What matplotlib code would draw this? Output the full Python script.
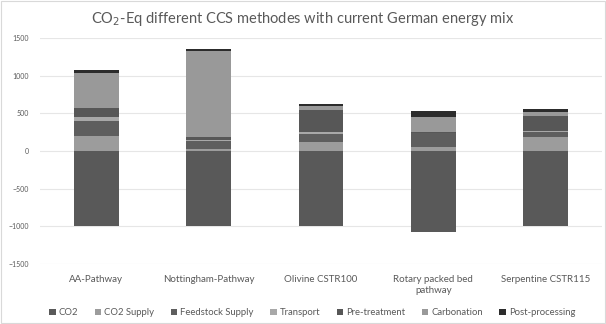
import matplotlib.pyplot as plt
import numpy as np

plt.rcParams['font.family'] = ['Lato', 'DejaVu Sans']

categories = ['AA-Pathway', 'Nottingham-Pathway', 'Olivine CSTR100',
              'Rotary packed bed\npathway', 'Serpentine CSTR115']
series = ['CO2', 'CO2 Supply', 'Feedstock Supply', 'Transport',
          'Pre-treatment', 'Carbonation', 'Post-processing']

co2 = [-1000, -1000, -1000, -1070, -1000]
co2_supply = [200, 20, 124, 55, 183]
feedstock = [204, 110, 103, 185, 66]
transport = [45, 20, 30, 5, 22]
pretreatment = [128, 30, 290, 5, 196]
carbonation = [459, 1150, 53, 200, 57]
postprocessing = [44, 30, 27, 85, 31]

colors = ['#595959', '#9c9c9c', '#5e5e5e', '#a8a8a8', '#575757', '#999999', '#2c2c2c']

fig = plt.figure(figsize=(6.06, 3.24), dpi=100, facecolor='white')
ax = fig.add_axes([40 / 606, 1 - 264 / 324, 562 / 606, 226 / 324])

x = np.arange(len(categories))
width = 0.4

ax.bar(x, co2, width, color=colors[0], label=series[0], zorder=3)
bottom = np.zeros(len(categories))
for name, vals, col in zip(series[1:],
                           [co2_supply, feedstock, transport, pretreatment,
                            carbonation, postprocessing],
                           colors[1:]):
    ax.bar(x, vals, width, bottom=bottom, color=col, label=name, zorder=3)
    bottom += np.array(vals)

ax.set_xlim(-0.5, len(categories) - 0.5)
ax.set_ylim(-1500, 1500)
ax.set_yticks(range(-1500, 1501, 500))
ax.yaxis.grid(True, color='#e6e6e6', linewidth=0.8, zorder=0)
ax.set_xticks(x)
ax.set_xticklabels(categories, fontsize=7, color='#595959')
ax.tick_params(axis='y', labelsize=5, colors='#595959', length=0, pad=8)
ax.tick_params(axis='x', length=0, pad=8)
for s in ax.spines.values():
    s.set_visible(False)

fig.text(0.5, 0.94, 'CO$_2$-Eq different CCS methodes with current German energy mix',
         ha='center', va='center', fontsize=10.5, color='#595959')

handles, labels = ax.get_legend_handles_labels()
fig.legend(handles, labels, loc='center', bbox_to_anchor=(0.515, 0.035), ncol=7,
           frameon=False, fontsize=6.8, labelcolor='#595959',
           handlelength=0.7, handleheight=0.7, handletextpad=0.3, columnspacing=1.75)

fig.patches.append(plt.Rectangle((0.002, 0.003), 0.996, 0.994, transform=fig.transFigure,
                                 fill=False, edgecolor='#d9d9d9', linewidth=0.8))

plt.savefig('out.png', dpi=100, facecolor='white')
